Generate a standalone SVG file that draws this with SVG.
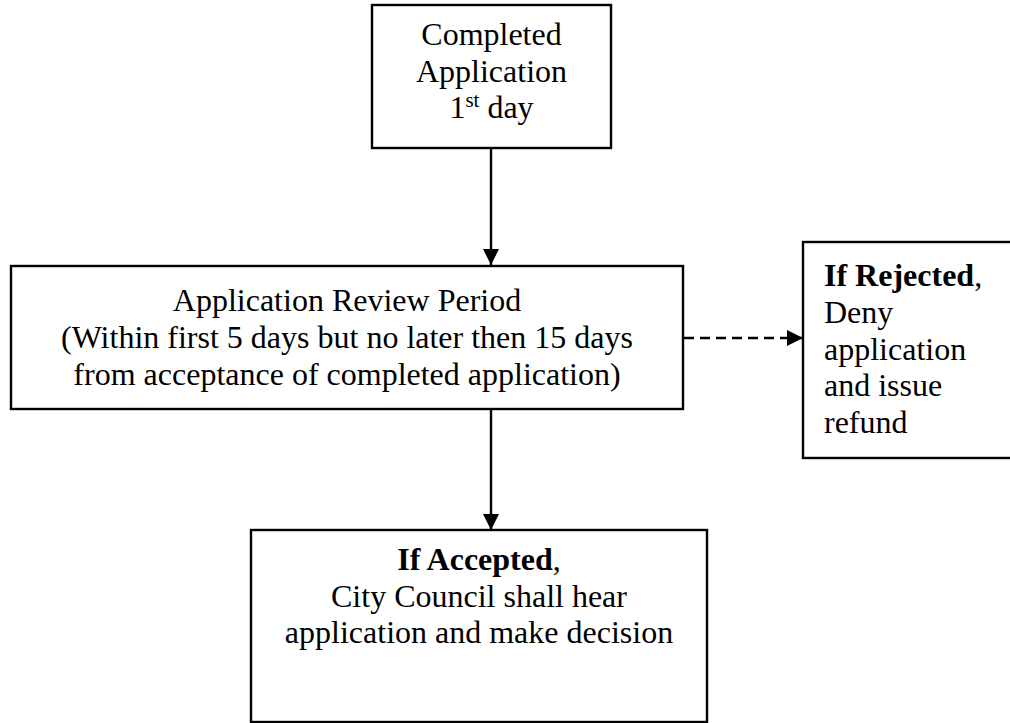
<svg xmlns="http://www.w3.org/2000/svg" width="1010" height="723" viewBox="0 0 1010 723">
<style>
.box{fill:#fff;stroke:#000;stroke-width:2.4}
.t{font-family:"Liberation Serif","Times New Roman",serif;font-size:32px;fill:#000}
.c{text-anchor:middle}
.b{font-weight:bold}
.ln{stroke:#000;stroke-width:2.4;fill:none}
.dash{stroke-dasharray:10 6}
</style>
<defs>
<marker id="ah" markerWidth="16" markerHeight="16" viewBox="0 0 16 16" refX="16" refY="8" orient="auto" markerUnits="userSpaceOnUse">
<path d="M0,0 L16,8 L0,16 Z" fill="#000"/>
</marker>
</defs>
<rect width="1010" height="723" fill="#fff"/>
<g id="connectors">
<line class="ln" x1="491" y1="148" x2="491" y2="265" marker-end="url(#ah)"/>
<line class="ln" x1="491" y1="409" x2="491" y2="530" marker-end="url(#ah)"/>
<line class="ln dash" x1="684" y1="338" x2="803" y2="338" marker-end="url(#ah)"/>
</g>
<g id="node-completed">
<rect class="box" x="372" y="5" width="239" height="143"/>
<text class="t c" x="491.5" y="45">Completed</text>
<text class="t c" x="491.5" y="82">Application</text>
<text class="t c" x="491.5" y="118">1<tspan font-size="21" dy="-11">st</tspan><tspan dy="11"> day</tspan></text>
</g>
<g id="node-review">
<rect class="box" x="11" y="266" width="672" height="143"/>
<text class="t c" x="347" y="311">Application Review Period</text>
<text class="t c" x="347" y="348">(Within first 5 days but no later then 15 days</text>
<text class="t c" x="347" y="385">from acceptance of completed application)</text>
</g>
<g id="node-rejected">
<rect class="box" x="803" y="242" width="215" height="216"/>
<text class="t" x="824" y="286"><tspan class="b">If Rejected</tspan>,</text>
<text class="t" x="824" y="323">Deny</text>
<text class="t" x="824" y="360">application</text>
<text class="t" x="824" y="396">and issue</text>
<text class="t" x="824" y="433">refund</text>
</g>
<g id="node-accepted">
<rect class="box" x="251" y="530" width="456" height="192"/>
<text class="t c" x="479" y="570"><tspan class="b">If Accepted</tspan>,</text>
<text class="t c" x="479" y="607">City Council shall hear</text>
<text class="t c" x="479" y="643">application and make decision</text>
</g>
</svg>
